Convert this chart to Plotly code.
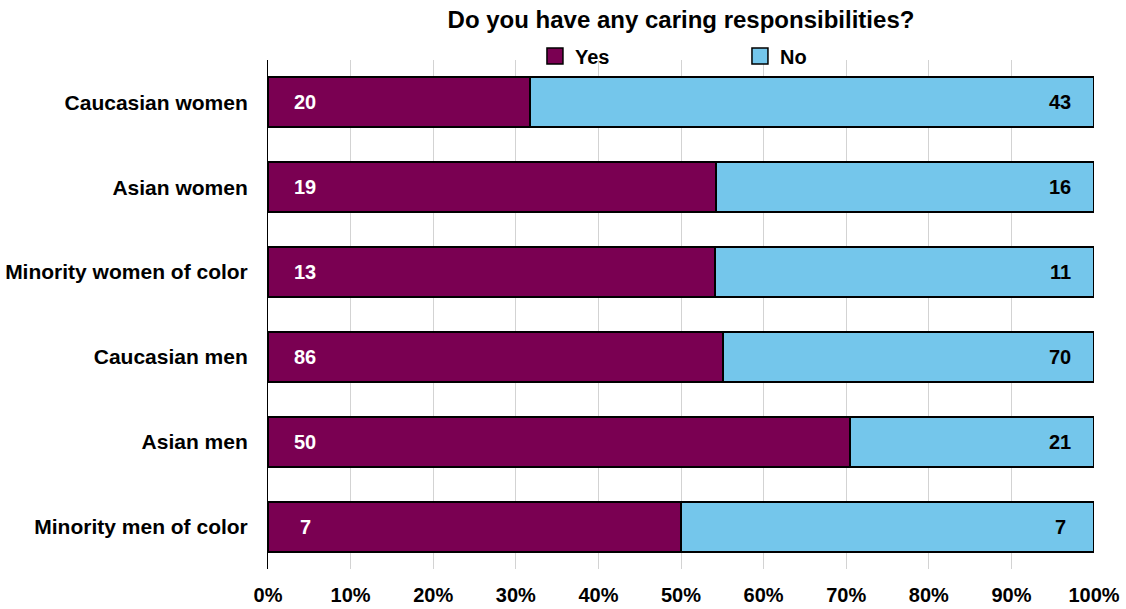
import plotly.graph_objects as go

categories = ["Caucasian women", "Asian women", "Minority women of color",
              "Caucasian men", "Asian men", "Minority men of color"]
yes_counts = [20, 19, 13, 86, 50, 7]
no_counts = [43, 16, 11, 70, 21, 7]
tick_vals = [0, 10, 20, 30, 40, 50, 60, 70, 80, 90, 100]
tick_text = [f"{v}%" for v in tick_vals]

YES_COLOR = "#7A0052"
NO_COLOR = "#74C6EB"
FONT = "Liberation Sans"

fig = go.Figure()
fig.add_trace(go.Bar(
    y=categories, x=yes_counts, orientation="h", name="Yes",
    marker=dict(color=YES_COLOR, line=dict(color="black", width=2)),
    showlegend=False, hoverinfo="skip",
))
fig.add_trace(go.Bar(
    y=categories, x=no_counts, orientation="h", name="No",
    marker=dict(color=NO_COLOR, line=dict(color="black", width=2)),
    showlegend=False, hoverinfo="skip",
))
# legend proxies with larger square markers
for name, col in [("Yes", YES_COLOR), ("No", NO_COLOR)]:
    fig.add_trace(go.Scatter(
        x=[None], y=[None], mode="markers", name=f"<b>{name}</b>",
        marker=dict(symbol="square", size=19, color=col,
                    line=dict(color="black", width=1.5)),
    ))

annotations = []
for cat, yv, nv in zip(categories, yes_counts, no_counts):
    annotations.append(dict(x=0, y=cat, xref="x", yref="y", text=f"<b>{yv}</b>",
                            showarrow=False, xanchor="center", xshift=37,
                            font=dict(family=FONT, size=20, color="white")))
    annotations.append(dict(x=100, y=cat, xref="x", yref="y", text=f"<b>{nv}</b>",
                            showarrow=False, xanchor="center", xshift=-34,
                            font=dict(family=FONT, size=20, color="black")))

fig.update_layout(
    width=1126, height=609,
    barmode="stack", barnorm="percent", bargap=0.41,
    paper_bgcolor="white", plot_bgcolor="white",
    margin=dict(l=268, r=32, t=60, b=40, autoexpand=False),
    font=dict(family=FONT, size=20, color="black"),
    title=dict(text="<b>Do you have any caring responsibilities?</b>",
               x=0.5, xref="paper", y=0.967, yanchor="middle",
               font=dict(family=FONT, size=24, color="black")),
    legend=dict(orientation="h", x=0.3232, xanchor="left", xref="paper",
                y=1.008, yanchor="middle", entrywidth=160, traceorder="normal",
                font=dict(family=FONT, size=20, color="black"),
                bgcolor="rgba(0,0,0,0)", itemclick=False, itemdoubleclick=False),
    xaxis=dict(range=[0, 100], tickvals=tick_vals, ticktext=[f"<b>{t}</b>" for t in tick_text],
               showgrid=True, gridcolor="#D3D3D3", gridwidth=1, zeroline=False,
               showline=False, ticks="", tickfont=dict(family=FONT, size=20),
               ticklabelstandoff=12, automargin=False, fixedrange=True),
    yaxis=dict(autorange="reversed", showgrid=False, showline=True, linecolor="black",
               linewidth=1, ticks="", ticklabelstandoff=15, automargin=False,
               tickvals=categories, ticktext=[f"<b>{c}</b>" for c in categories],
               tickfont=dict(family=FONT, size=21), fixedrange=True),
    annotations=annotations,
)

fig.write_html("out.html")
